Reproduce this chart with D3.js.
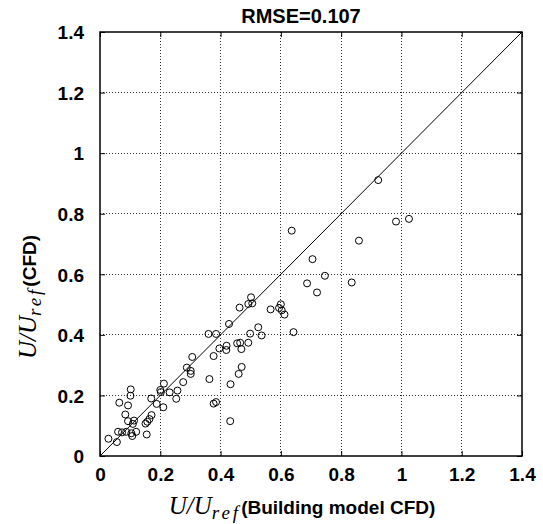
<!DOCTYPE html>
<html>
<head>
<meta charset="utf-8">
<script src="https://cdn.jsdelivr.net/npm/d3@7"></script>
<style>
  html, body { margin: 0; padding: 0; background: #fff; }
  svg { display: block; }
</style>
</head>
<body>
<svg id="chart" width="543" height="524"></svg>
<script>
// ---- data ----
const tickValues = [0, 0.2, 0.4, 0.6, 0.8, 1, 1.2, 1.4];
const tickLabels = ["0", "0.2", "0.4", "0.6", "0.8", "1", "1.2", "1.4"];
const titleText = "RMSE=0.107";
const xModel = [0.923,0.982,1.025,0.859,0.835,0.636,0.705,0.746,0.687,0.720,
  0.501,0.492,0.505,0.463,0.566,0.600,0.594,0.603,0.612,0.428,
  0.642,0.525,0.536,0.498,0.385,0.360,0.455,0.465,0.492,0.469,
  0.420,0.419,0.396,0.377,0.470,0.460,0.363,0.433,0.385,0.377,
  0.432,0.306,0.288,0.301,0.301,0.276,0.212,0.200,0.202,0.231,
  0.257,0.253,0.170,0.188,0.210,0.171,0.164,0.157,0.151,0.155,
  0.102,0.101,0.064,0.093,0.084,0.093,0.113,0.109,0.060,0.073,
  0.087,0.104,0.107,0.120,0.028,0.056];
const yCFD = [0.911,0.774,0.783,0.711,0.573,0.744,0.650,0.595,0.570,0.540,
  0.524,0.502,0.504,0.490,0.484,0.501,0.489,0.481,0.467,0.436,
  0.409,0.425,0.398,0.404,0.403,0.403,0.372,0.374,0.374,0.353,
  0.364,0.350,0.355,0.330,0.294,0.271,0.254,0.237,0.178,0.173,
  0.115,0.327,0.292,0.281,0.271,0.244,0.239,0.218,0.211,0.210,
  0.216,0.189,0.190,0.172,0.161,0.135,0.122,0.113,0.107,0.071,
  0.220,0.199,0.176,0.167,0.137,0.115,0.117,0.106,0.080,0.078,
  0.080,0.075,0.066,0.080,0.057,0.046];
const points = xModel.map((x, i) => ({x: x, y: yCFD[i]}));

// ---- layout ----
const L = 100, R = 522, T = 32, B = 456;
const svg = d3.select("#chart");
const x = d3.scaleLinear().domain([0, 1.4]).range([L, R]);
const y = d3.scaleLinear().domain([0, 1.4]).range([B, T]);
const font = "'Liberation Sans', Arial, Helvetica, sans-serif";
const serif = "'Liberation Serif', 'Times New Roman', serif";

// grid
const grid = svg.append("g").attr("stroke", "#333").attr("stroke-width", 1)
  .attr("stroke-dasharray", "1,2").attr("shape-rendering", "crispEdges");
tickValues.slice(1, -1).forEach(v => {
  grid.append("line").attr("x1", x(v)).attr("x2", x(v)).attr("y1", T).attr("y2", B);
  grid.append("line").attr("x1", L).attr("x2", R).attr("y1", y(v)).attr("y2", y(v));
});

// axes with inward ticks
const fmt = (d) => tickLabels[tickValues.indexOf(d)];
const axB = svg.append("g").attr("transform", `translate(0,${B})`)
  .call(d3.axisBottom(x).tickValues(tickValues).tickSize(-5).tickPadding(12).tickFormat(fmt));
const axT = svg.append("g").attr("transform", `translate(0,${T})`)
  .call(d3.axisTop(x).tickValues(tickValues).tickSize(-5).tickFormat(""));
const axL = svg.append("g").attr("transform", `translate(${L},0)`)
  .call(d3.axisLeft(y).tickValues(tickValues).tickSize(-5).tickPadding(16).tickFormat(fmt));
const axR = svg.append("g").attr("transform", `translate(${R},0)`)
  .call(d3.axisRight(y).tickValues(tickValues).tickSize(-5).tickFormat(""));
[axB, axT, axL, axR].forEach(a => {
  a.select(".domain").remove();
  a.selectAll(".tick line").attr("stroke", "#000").attr("stroke-width", 1);
  a.selectAll("text").attr("font-family", font).attr("font-weight", "bold")
    .attr("font-size", 19).attr("fill", "#000");
});
axL.selectAll("text").attr("dy", "0.36em");

// frame
svg.append("rect").attr("x", L).attr("y", T).attr("width", R - L).attr("height", B - T)
  .attr("fill", "none").attr("stroke", "#000").attr("stroke-width", 1.5);

// diagonal 1:1 line
svg.append("line").attr("x1", x(0)).attr("y1", y(0)).attr("x2", x(1.4)).attr("y2", y(1.4))
  .attr("stroke", "#000").attr("stroke-width", 1);

// points
svg.append("g").selectAll("circle").data(points).join("circle")
  .attr("cx", d => x(d.x)).attr("cy", d => y(d.y)).attr("r", 3.5)
  .attr("fill", "none").attr("stroke", "#000").attr("stroke-width", 1);

// title
svg.append("text").attr("x", 301).attr("y", 23).attr("text-anchor", "middle")
  .attr("font-family", font).attr("font-weight", "bold").attr("font-size", 20)
  .text(titleText);

// axis label builder
function mathLabel(t, tail) {
  t.append("tspan").attr("font-family", serif)
    .attr("font-style", "italic").attr("font-size", 25).text("U/U");
  t.append("tspan").attr("font-family", serif)
    .attr("font-style", "italic").attr("font-size", 19).attr("dy", 5)
    .attr("letter-spacing", 3).text("ref");
  t.append("tspan").attr("font-family", font).attr("font-weight", "bold")
    .attr("font-size", 19).attr("dy", -5).text(tail);
}
const xl = svg.append("text").attr("x", 302).attr("y", 514).attr("text-anchor", "middle");
mathLabel(xl, "(Building model CFD)");
const yl = svg.append("text").attr("transform", "translate(36,297) rotate(-90)")
  .attr("text-anchor", "middle");
mathLabel(yl, "(CFD)");
</script>
</body>
</html>
